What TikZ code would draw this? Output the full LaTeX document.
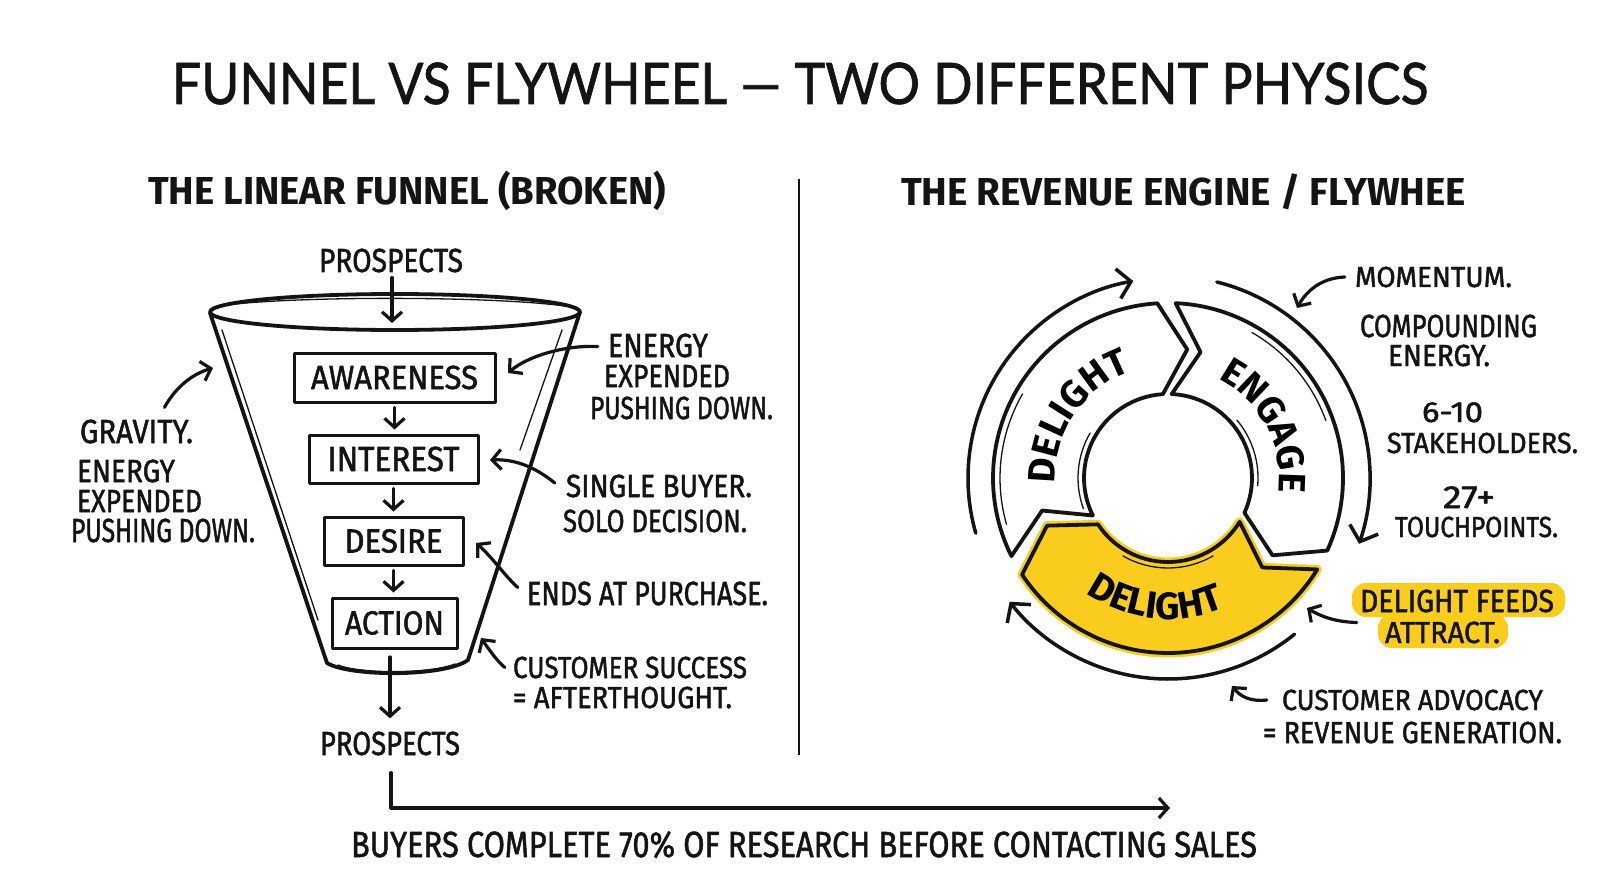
\documentclass[tikz,border=0pt]{standalone}
\usepackage{fontspec}
\usepackage{graphicx}
\setmainfont{Fira Sans}
\newfontfamily\titlefont{Lato}[FakeBold=1.2]
\newfontfamily\hand{Fira Sans}[FakeBold=1.6]
\newfontfamily\handbold{Fira Sans Bold}
\usetikzlibrary{arrows.meta,decorations.text,calc}
\definecolor{ink}{RGB}{20,20,20}
\definecolor{hl}{RGB}{249,204,30}
\newsavebox\txb
\newsavebox\txh
\newcommand\tx[3]{\sbox\txb{#3}\sbox\txh{H}%
  \pgfmathsetmacro\txsx{#1/\the\wd\txb}%
  \pgfmathsetmacro\txsy{#2/\the\ht\txh}%
  \scalebox{\txsx}[\txsy]{\usebox\txb}}
\newcommand\segfont{\handbold\fontsize{38}{40}\selectfont}
\tikzset{
  lbl/.style={inner sep=0pt, anchor=base, text=ink, font=\hand\fontsize{32}{36}\selectfont},
  sub/.style={lbl, font=\handbold\fontsize{38}{40}\selectfont},
  stage/.style={draw=ink, line width=3pt, inner sep=0pt, text=ink, font=\hand\fontsize{32}{36}\selectfont},
  arr/.style={draw=ink, line width=3.2pt, line cap=round, -{Straight Barb[length=9pt,width=20pt]}},
  warr/.style={draw=ink, line width=3.5pt, line cap=round, -{Straight Barb[length=13pt,width=30pt]}},
  funnel/.style={draw=ink, line width=3.8pt, line cap=round},
  sketch/.style={draw=ink, line width=1.3pt, line cap=round},
  seg/.style={draw=ink, line width=3.8pt, fill=white, line join=round},
}
\begin{document}
\begin{tikzpicture}[x=1pt,y=-1pt,line join=round]
\useasboundingbox[fill=white] (0,0) rectangle (1600,893);

% title and headings
\node[anchor=base, inner sep=0pt, text=ink, font=\titlefont\fontsize{58}{60}\selectfont] (title) at (800,104) {\tx{1256}{41}{FUNNEL VS FLYWHEEL — TWO DIFFERENT PHYSICS}};
\node[sub] (lsub) at (407,205) {\tx{518}{27}{THE LINEAR FUNNEL (BROKEN)}};
\node[sub] (rsub) at (1183.5,206) {\tx{565}{27}{THE REVENUE ENGINE / FLYWHEE}};

% divider
\coordinate (dtop) at (799,179);
\coordinate (dbot) at (799,755);
\draw[ink, line width=2pt] (dtop) -- (dbot);

% funnel
\coordinate (ftl) at (210,313);
\coordinate (ftr) at (580,312);
\coordinate (fbl) at (327,663);
\coordinate (fbr) at (468,660);
\draw[funnel] (395,312) ellipse [x radius=185, y radius=18];
\draw[funnel] (ftl) -- (fbl) .. controls (350,677) and (445,677) .. (fbr) -- (ftr);
\draw[sketch] (226,305) .. controls (300,296) and (490,296) .. (565,306);
\draw[sketch] (222,330) -- (318,620);
\draw[sketch] (562,330) -- (520,450);
\draw[sketch] (338,665) .. controls (360,674) and (430,674) .. (455,664);

\node[stage, minimum width=201pt, minimum height=49pt] (aw) at (394.5,377.5) {\tx{167}{23}{AWARENESS}};
\node[stage, minimum width=169pt, minimum height=48pt] (in) at (393.5,459) {\tx{132}{24}{INTEREST}};
\node[stage, minimum width=139pt, minimum height=48pt] (de) at (393.5,541) {\tx{98}{23}{DESIRE}};
\node[stage, minimum width=125pt, minimum height=50pt] (ac) at (394.5,623) {\tx{99}{23}{ACTION}};
\draw[arr, shorten <=4pt, shorten >=4pt] (aw.south) -- (aw.south |- in.north);
\draw[arr, shorten <=4pt, shorten >=4pt] (in.south) -- (in.south |- de.north);
\draw[arr, shorten <=4pt, shorten >=4pt] (de.south) -- (de.south |- ac.north);

\node[lbl] (ptop) at (391,272) {\tx{144}{23}{PROSPECTS}};
\coordinate (ftin) at (392,323);
\draw[arr] ($(ptop.south)+(1,5)$) -- (ftin);

\coordinate (fout) at (390,657);
\node[lbl] (pbot) at (390,755) {\tx{140}{23}{PROSPECTS}};
\draw[arr] (fout) -- ($(pbot.north)+(0,-13)$);

\coordinate (lend) at (1170,808);
\draw[arr] ($(pbot.south)+(1,17)$) |- (lend);
\node[lbl] (buy) at (804,857) {\tx{906}{25}{BUYERS COMPLETE 70\% OF RESEARCH BEFORE CONTACTING SALES}};

% left annotations
\node[lbl] (grav) at (136.5,443) {\tx{113}{23}{GRAVITY.}};
\node[lbl] (len1) at (126,482) {\tx{98}{22}{ENERGY}};
\node[lbl] (len2) at (139.5,512) {\tx{125}{22}{EXPENDED}};
\node[lbl] (len3) at (163,542) {\tx{184}{23}{PUSHING DOWN.}};
\coordinate (gravtip) at (213,368);
\draw[arr] ($(grav.north)+(28,-12)$) .. controls (175,388) and (192,374) .. (gravtip);

% right-of-funnel annotations
\node[lbl] (ren1) at (658,357) {\tx{100}{23}{ENERGY}};
\node[lbl] (ren2) at (667,387) {\tx{126}{22}{EXPENDED}};
\node[lbl] (ren3) at (681.5,419) {\tx{183}{22}{PUSHING DOWN.}};
\coordinate (entip) at (508,373);
\draw[arr] ($(ren1.west)+(-10,1)$) .. controls (565,345) and (528,356) .. (entip);

\node[lbl] (sb1) at (659,497) {\tx{186}{22}{SINGLE BUYER.}};
\node[lbl] (sb2) at (655,532) {\tx{184}{22}{SOLO DECISION.}};
\coordinate (sbtip) at (490,460);
\draw[arr] ($(sb1.west)+(-11,-3)$) .. controls (535,467) and (515,459) .. (sbtip);

\node[lbl] (ends) at (647.5,605) {\tx{241}{23}{ENDS AT PURCHASE.}};
\coordinate (endtip) at (476,543);
\draw[arr] ($(ends.west)+(-9,-6)$) .. controls (505,576) and (492,557) .. (endtip);

\node[lbl] (cs1) at (630,678) {\tx{234}{21}{CUSTOMER SUCCESS}};
\node[lbl] (cs2) at (622.5,708) {\tx{219}{21}{= AFTERTHOUGHT.}};
\coordinate (cstip) at (481,638);
\draw[arr] ($(cs1.west)+(-8,0)$) .. controls (496,660) and (488,648) .. (cstip);

% flywheel
\begin{scope}[shift={(1168,478)}]
  \coordinate (hub) at (0,0);
  \path[seg] (-206.5:175) arc[start angle=-206.5, end angle=-93.5, radius=175] -- (-81.5:130) -- (-93.5:84) arc[start angle=-93.5, end angle=-206.5, radius=84] -- (-194.5:130) -- cycle;
  \path[seg] (-87.5:175) arc[start angle=-87.5, end angle=24.5, radius=175] -- (36.5:130) -- (24.5:84) arc[start angle=24.5, end angle=-87.5, radius=84] -- (-75.5:130) -- cycle;
  \path[draw=hl, line width=9pt, line join=round] (31.5:175) arc[start angle=31.5, end angle=146.5, radius=175] -- (158.5:130) -- (146.5:84) arc[start angle=146.5, end angle=31.5, radius=84] -- (43.5:130) -- cycle;
  \path[seg, fill=hl] (31.5:175) arc[start angle=31.5, end angle=146.5, radius=175] -- (158.5:130) -- (146.5:84) arc[start angle=146.5, end angle=31.5, radius=84] -- (43.5:130) -- cycle;
  % sketchy inner strokes
  \draw[sketch] (-196:168) arc[start angle=-196, end angle=-150, radius=168];
  \draw[sketch] (-60:168) arc[start angle=-60, end angle=-20, radius=168];
  \draw[sketch] (-200:90) arc[start angle=-200, end angle=-150, radius=90];
  \draw[sketch] (-40:90) arc[start angle=-40, end angle=5, radius=90];
  \draw[sketch] (60:90) arc[start angle=60, end angle=120, radius=90];

  \path[decoration={text along path, text={|\segfont|DELIGHT}, text align=center}, decorate] (-206:113) arc[start angle=-206, end angle=-86, radius=113];
  \path[decoration={text along path, text={|\segfont|ENGAGE}, text align=center}, decorate] (-88:111) arc[start angle=-88, end angle=32, radius=111];
  \path[decoration={text along path, text={|\segfont|DELIGHT}, text align=center}, decorate] (-204:141) arc[start angle=-204, end angle=-324, radius=141];

  \draw[warr] (-196:200) arc[start angle=-196, end angle=-100, radius=200];
  \draw[warr] (-76:202) arc[start angle=-76, end angle=19, radius=202];
  \draw[warr] (51:201) arc[start angle=51, end angle=142, radius=201];
\end{scope}

% flywheel annotations
\node[lbl] (mom) at (1433.5,287) {\tx{157}{20}{MOMENTUM.}};
\coordinate (momtip) at (1297,308);
\draw[arr] ($(mom.west)+(-10,0)$) .. controls (1320,278) and (1306,292) .. (momtip);

\node[lbl] (cp1) at (1448.5,337) {\tx{177}{22}{COMPOUNDING}};
\node[lbl] (cp2) at (1439,366) {\tx{102}{21}{ENERGY.}};
\node[lbl] (st1) at (1452.5,422) {\tx{61}{20}{6-10}};
\node[lbl] (st2) at (1482.5,453) {\tx{191}{20}{STAKEHOLDERS.}};
\node[lbl] (tp1) at (1469,508) {\tx{52}{22}{27+}};
\node[lbl] (tp2) at (1476.5,537) {\tx{163}{20}{TOUCHPOINTS.}};

\fill[hl, rounded corners=14pt] (1352,583) rectangle (1565,617);
\fill[hl, rounded corners=14pt] (1378,614) rectangle (1508,648);
\node[lbl] (df1) at (1457,612) {\tx{194}{22}{DELIGHT FEEDS}};
\node[lbl] (df2) at (1442.5,643) {\tx{115}{21}{ATTRACT.}};
\coordinate (dftip) at (1307,608);
\draw[arr] ($(df2.west)+(-28,-10)$) .. controls (1335,622) and (1320,616) .. (dftip);

\node[lbl] (ca1) at (1412.5,710) {\tx{261}{20}{CUSTOMER ADVOCACY}};
\node[lbl] (ca2) at (1412.5,743) {\tx{299}{21}{= REVENUE GENERATION.}};
\coordinate (catip) at (1232,686);
\draw[arr] ($(ca1.west)+(-15,0)$) .. controls (1250,702) and (1240,696) .. (catip);
\end{tikzpicture}
\end{document}
